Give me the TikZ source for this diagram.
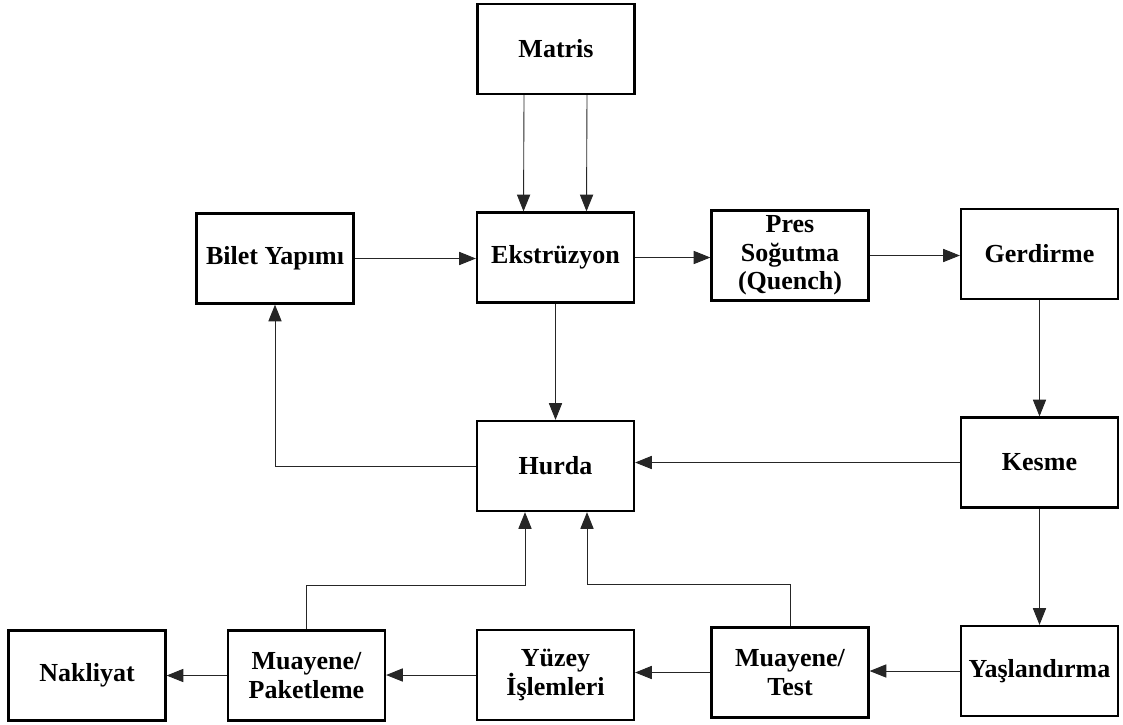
\documentclass[tikz,border=0pt]{standalone}
\usepackage{fontspec}
\setmainfont{Liberation Serif}
\usetikzlibrary{arrows.meta, positioning}

\begin{document}
\begin{tikzpicture}[
  x=0.02cm, y=-0.02cm,
  box/.style={draw, line width=1.3pt, minimum width=3.14cm, minimum height=1.8cm,
              inner sep=1pt, align=center,
              font=\bfseries\fontsize{14.8}{16.2}\selectfont},
  arrow/.style={-{Triangle[length=9.5pt,width=7.5pt]}, black!85, line width=0.5pt}
]
\useasboundingbox (0,0) rectangle (1123,724);

% top rows
\node[box] (matris)   at (556,49)     {Matris};
\node[box] (bilet)    at (275,258.5)  {Bilet Yapımı};
\node[box] (ekstr)    at (555.5,257.5){Ekstrüzyon};
\node[box] (pres)     at (790,255.5)  {Pres\\Soğutma\\(Quench)};
\node[box] (gerd)     at (1039.5,254) {Gerdirme};
\node[box] (hurda)    at (555.5,466)  {Hurda};
\node[box] (kesme)    at (1039.5,462.5){Kesme};
% bottom row
\node[box] (nakliyat) at (87,675.5)   {Nakliyat};
\node[box] (mpak)     at (306.5,675.5){Muayene/\\Paketleme};
\node[box] (yuzey)    at (555.5,675)  {Yüzey\\İşlemleri};
\node[box] (mtest)    at (790,672.5)  {Muayene/\\Test};
\node[box] (yasl)     at (1039.5,671) {Yaşlandırma};

\coordinate (jl) at (525,585);
\coordinate (jr) at (587,584);

\draw[arrow] ([xshift=-0.64cm]matris.south) -- ([xshift=-0.64cm]ekstr.north);
\draw[arrow] ([xshift=0.62cm]matris.south)  -- ([xshift=0.62cm]ekstr.north);
\draw[arrow] (bilet.east) -- (bilet.east -| ekstr.west);
\draw[arrow] (ekstr.east) -- (ekstr.east -| pres.west);
\draw[arrow] (pres.east)  -- (pres.east -| gerd.west);
\draw[arrow] (gerd)       -- (kesme);
\draw[arrow] (ekstr)      -- (hurda);
\draw[arrow] (kesme.west) -- (kesme.west -| hurda.east);
\draw[arrow] (hurda.west) -| (bilet.south);
\draw[arrow] (kesme)      -- (yasl);
\draw[arrow] (yasl.west)  -- (yasl.west -| mtest.east);
\draw[arrow] (mtest.west) -- (mtest.west -| yuzey.east);
\draw[arrow] (yuzey.west) -- (yuzey.west -| mpak.east);
\draw[arrow] (mpak.west)  -- (mpak.west -| nakliyat.east);
\draw[arrow] (mpak.north) |- (jl) -- (jl |- hurda.south);
\draw[arrow] (mtest.north) |- (jr) -- (jr |- hurda.south);
\end{tikzpicture}
\end{document}
